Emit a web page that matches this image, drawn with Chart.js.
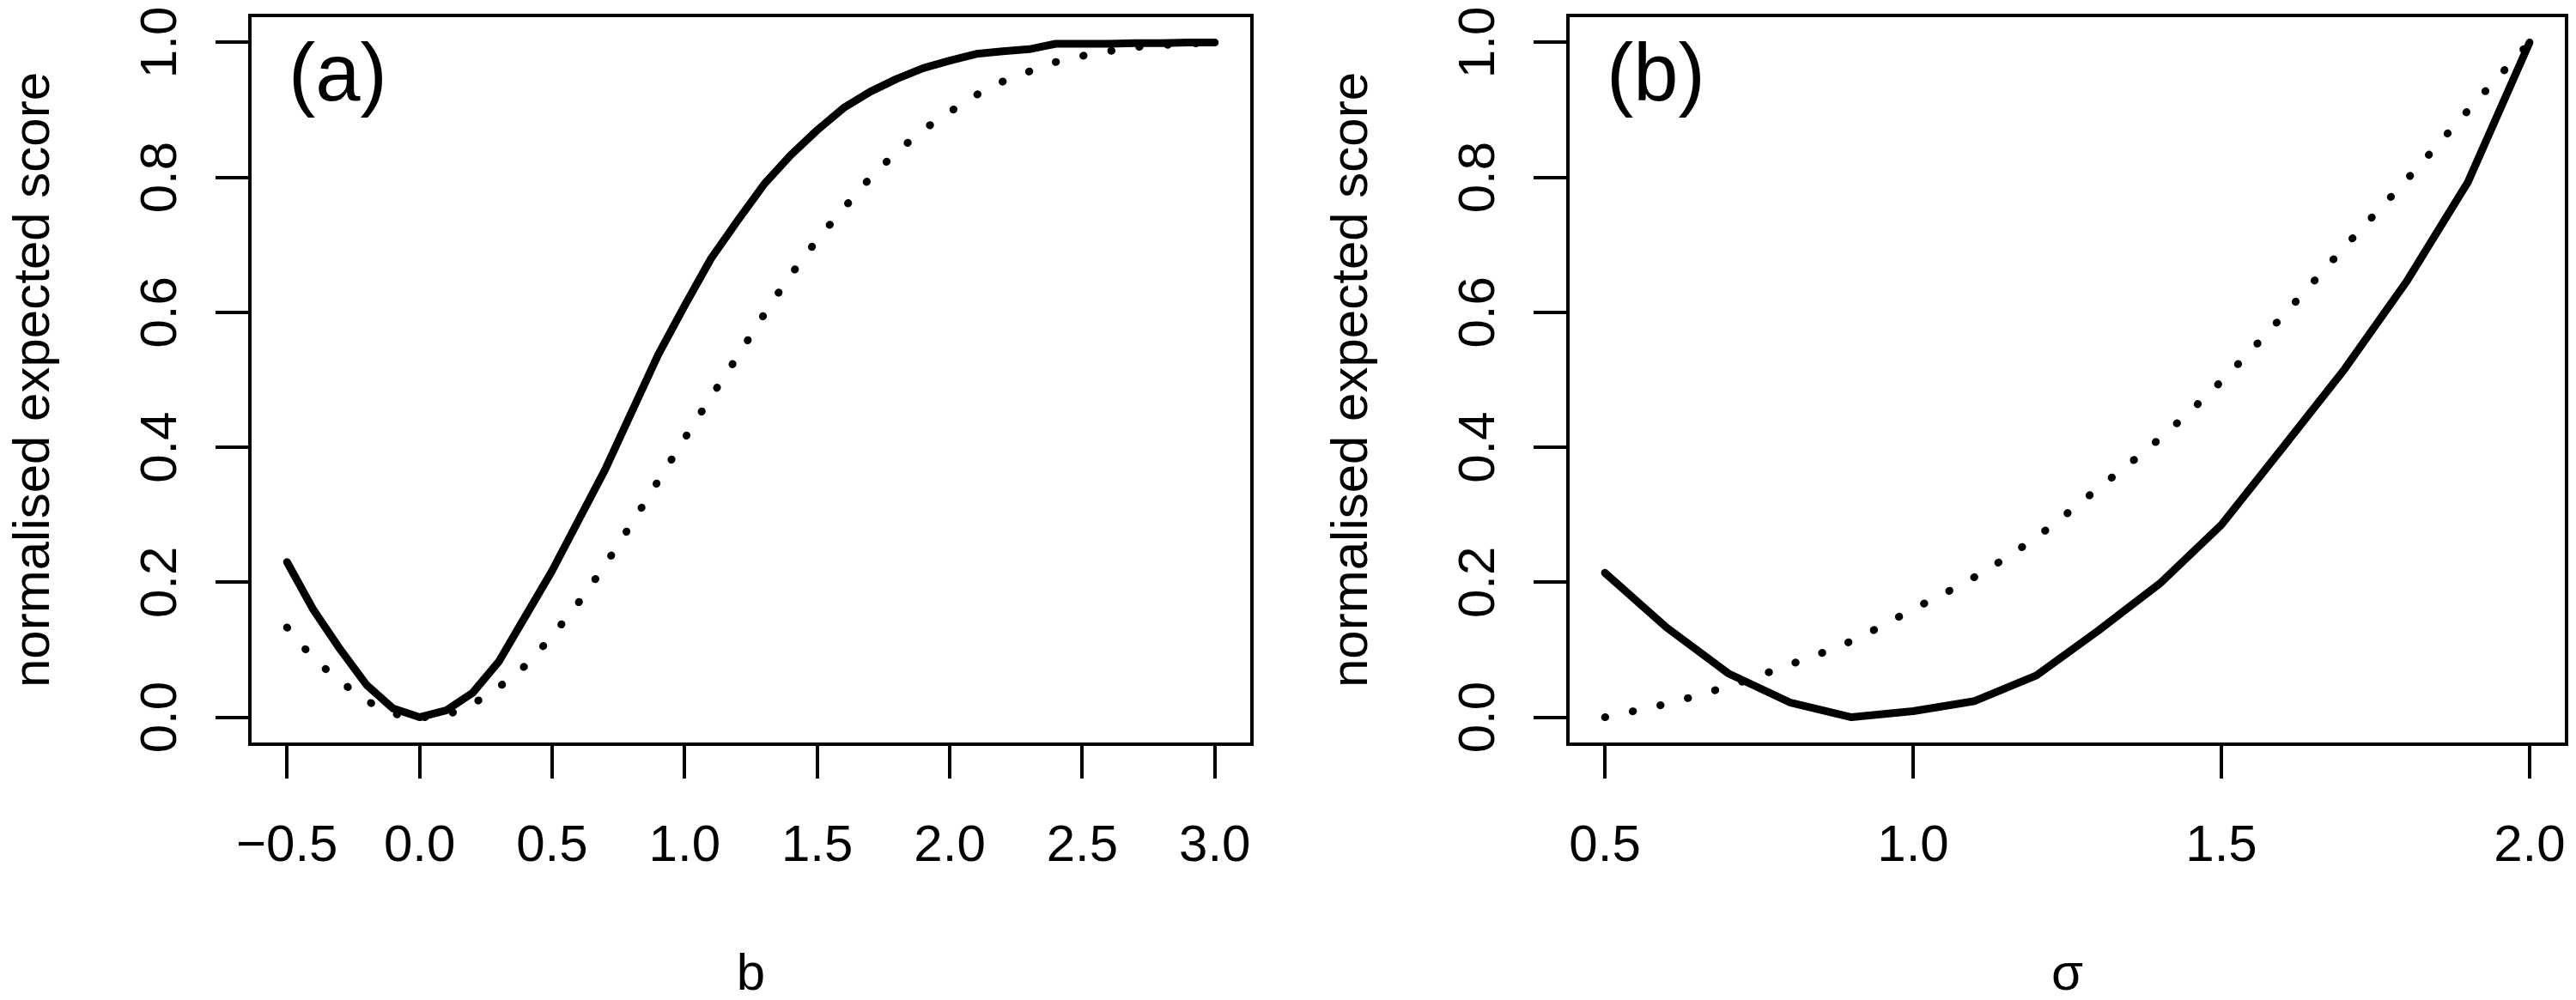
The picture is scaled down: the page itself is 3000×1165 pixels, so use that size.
<!DOCTYPE html>
<html>
<head>
<meta charset="utf-8">
<script src="https://cdn.jsdelivr.net/npm/chart.js@4.4.1/dist/chart.umd.min.js"></script>
<style>
  html, body { margin: 0; padding: 0; background: #ffffff; }
  #wrap { position: relative; width: 3000px; height: 1165px; background: #ffffff; overflow: hidden; }
  canvas { position: absolute; top: 0; }
  #ca { left: 0; }
  #cb { left: 1500px; }
</style>
</head>
<body>
<div id="wrap">
  <canvas id="ca" width="1500" height="1165"></canvas>
  <canvas id="cb" width="1500" height="1165"></canvas>
</div>
<script>
// ---------------- data ----------------
const bValues = [-0.5, -0.4, -0.3, -0.2, -0.1, 0.0, 0.1, 0.2, 0.3, 0.4, 0.5, 0.6,
                 0.7, 0.8, 0.9, 1.0, 1.1, 1.2, 1.3, 1.4, 1.5, 1.6, 1.7, 1.8,
                 1.9, 2.0, 2.1, 2.2, 2.3, 2.4, 2.5, 2.6, 2.7, 2.8, 2.9, 3.0];
const solidA = [0.230, 0.159, 0.101, 0.048, 0.013, 0.000, 0.010, 0.036, 0.083, 0.150, 0.217, 0.292,
                0.367, 0.452, 0.537, 0.610, 0.680, 0.736, 0.790, 0.833, 0.870, 0.903, 0.927, 0.946,
                0.962, 0.973, 0.983, 0.987, 0.990, 0.998, 0.998, 0.998, 0.999, 0.999, 1.000, 1.000];
const dottedA = [0.133, 0.088, 0.054, 0.025, 0.006, 0.000, 0.004, 0.020, 0.045, 0.077, 0.121, 0.170,
                 0.226, 0.287, 0.350, 0.413, 0.475, 0.535, 0.597, 0.655, 0.707, 0.754, 0.799, 0.837,
                 0.870, 0.897, 0.922, 0.942, 0.957, 0.971, 0.980, 0.987, 0.993, 0.996, 0.998, 1.000];

const sigmaValues = [0.5, 0.6, 0.7, 0.8, 0.9, 1.0, 1.1, 1.2, 1.3, 1.4, 1.5, 1.6, 1.7, 1.8, 1.9, 2.0];
const solidB = [0.214, 0.133, 0.065, 0.022, 0.000, 0.009, 0.024, 0.062, 0.128, 0.198, 0.285, 0.400,
                0.516, 0.645, 0.793, 1.000];
const dottedB = [0.000, 0.020, 0.046, 0.078, 0.113, 0.160, 0.208, 0.267, 0.339, 0.413, 0.498, 0.595,
                 0.697, 0.796, 0.899, 1.000];

const xTicksA = [-0.5, 0.0, 0.5, 1.0, 1.5, 2.0, 2.5, 3.0];
const xTicksB = [0.5, 1.0, 1.5, 2.0];
const yTicks = [0.0, 0.2, 0.4, 0.6, 0.8, 1.0];

const yTitle = 'normalised expected score';
const xTitleA = 'b';
const xTitleB = 'σ';
const tagA = '(a)';
const tagB = '(b)';

// ---------------- helpers ----------------
const FONT = '"Liberation Sans", Arial, Helvetica, sans-serif';
Chart.defaults.font.family = FONT;

function fmt(v) {
  const s = Math.abs(v).toFixed(1);
  return v < 0 ? '\u2212' + s : s;
}
function pts(xs, ys) { return xs.map((x, i) => ({ x: x, y: ys[i] })); }

const decor = {
  id: 'decor',
  afterDraw(chart, args, o) {
    const { ctx, chartArea: ca, scales } = chart;
    const x = scales.x, y = scales.y;
    ctx.save();
    // full box
    ctx.strokeStyle = '#000';
    ctx.lineWidth = 4;
    ctx.strokeRect(ca.left, ca.top, ca.right - ca.left, ca.bottom - ca.top);
    ctx.fillStyle = '#000';
    // x tick labels
    ctx.font = '60px ' + FONT;
    ctx.textAlign = 'center';
    ctx.textBaseline = 'alphabetic';
    x.ticks.forEach(t => ctx.fillText(fmt(t.value), x.getPixelForValue(t.value), ca.bottom + 136));
    // y tick labels (rotated, parallel to axis)
    y.ticks.forEach(t => {
      ctx.save();
      ctx.translate(ca.left - 86, y.getPixelForValue(t.value));
      ctx.rotate(-Math.PI / 2);
      ctx.fillText(fmt(t.value), 0, 0);
      ctx.restore();
    });
    // y axis title
    ctx.save();
    ctx.translate(ca.left - 234, (ca.top + ca.bottom) / 2);
    ctx.rotate(-Math.PI / 2);
    ctx.fillText(o.yTitle, 0, 0);
    ctx.restore();
    // x axis title
    ctx.fillText(o.xTitle, (ca.left + ca.right) / 2, ca.bottom + 286);
    // panel tag
    ctx.font = '94px ' + FONT;
    ctx.textAlign = 'left';
    ctx.fillText(o.tag, ca.left + 45, ca.top + 99);
    ctx.restore();
  }
};

function makeChart(canvasId, xs, solid, dotted, xmin, xmax, ticks, yAxisWidth, rightPad, xTitle, tag) {
  return new Chart(document.getElementById(canvasId), {
    type: 'line',
    data: {
      datasets: [
        {
          data: pts(xs, solid),
          borderColor: '#000',
          borderWidth: 9,
          borderCapStyle: 'round',
          borderJoinStyle: 'round',
          pointRadius: 0,
          tension: 0,
          fill: false
        },
        {
          data: pts(xs, dotted),
          borderColor: '#000',
          borderWidth: 9,
          borderCapStyle: 'round',
          borderJoinStyle: 'round',
          borderDash: [0.5, 32.5],
          pointRadius: 0,
          cubicInterpolationMode: 'monotone',
          fill: false
        }
      ]
    },
    options: {
      responsive: false,
      animation: false,
      devicePixelRatio: 1,
      layout: { padding: { top: 18, right: rightPad, left: 0, bottom: 0 } },
      plugins: {
        legend: { display: false },
        tooltip: { enabled: false },
        decor: { yTitle: yTitle, xTitle: xTitle, tag: tag }
      },
      scales: {
        x: {
          type: 'linear',
          min: xmin,
          max: xmax,
          bounds: 'data',
          afterBuildTicks: s => { s.ticks = ticks.map(v => ({ value: v })); },
          afterFit: s => { s.height = 298; },
          ticks: { display: false },
          grid: { drawOnChartArea: false, drawTicks: true, tickLength: 40, color: '#000', lineWidth: 4 },
          border: { display: true, color: '#000', width: 4 }
        },
        y: {
          type: 'linear',
          min: -0.04,
          max: 1.04,
          bounds: 'data',
          afterBuildTicks: s => { s.ticks = yTicks.map(v => ({ value: v })); },
          afterFit: s => { s.width = yAxisWidth; },
          ticks: { display: false },
          grid: { drawOnChartArea: false, drawTicks: true, tickLength: 40, color: '#000', lineWidth: 4 },
          border: { display: true, color: '#000', width: 4 }
        }
      }
    },
    plugins: [decor]
  });
}

makeChart('ca', bValues, solidA, dottedA, -0.64, 3.14, xTicksA, 291, 42, xTitleA, tagA);
makeChart('cb', sigmaValues, solidB, dottedB, 0.44, 2.06, xTicksB, 326, 11, xTitleB, tagB);
</script>
</body>
</html>
